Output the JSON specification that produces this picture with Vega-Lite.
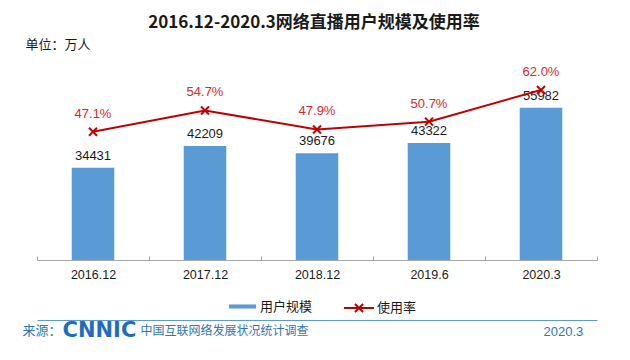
{
  "$schema": "https://vega.github.io/schema/vega-lite/v6.json",
  "width": 560,
  "height": 220,
  "autosize": {"type": "none"},
  "padding": {"left": 37, "top": 40, "right": 33, "bottom": 100},
  "background": "white",
  "config": {"view": {"stroke": null}, "font": "Noto Sans CJK SC"},
  "title": {
    "text": "2016.12-2020.3网络直播用户规模及使用率",
    "fontSize": 17,
    "fontWeight": "bold",
    "font": "Noto Sans CJK SC",
    "color": "#1a1a1a",
    "anchor": "middle",
    "dx": -3,
    "offset": 6
  },
  "data": {
    "values": [
      {"period": "2016.12", "users": 34431, "rate": 0.471},
      {"period": "2017.12", "users": 42209, "rate": 0.547},
      {"period": "2018.12", "users": 39676, "rate": 0.479},
      {"period": "2019.6", "users": 43322, "rate": 0.507},
      {"period": "2020.3", "users": 55982, "rate": 0.62}
    ]
  },
  "layer": [
    {
      "encoding": {
        "x": {
          "field": "period", "type": "nominal", "sort": null,
          "scale": {"paddingInner": 0, "paddingOuter": 0},
          "axis": {
            "orient": "bottom", "title": null, "labelAngle": 0,
            "labelFont": "Liberation Sans", "labelFontSize": 12.5, "labelColor": "#1a1a1a",
            "domainColor": "#A6A6A6", "tickColor": "#A6A6A6", "tickSize": -4,
            "tickBand": "extent", "labelPadding": 12, "grid": false
          }
        },
        "y": {
          "field": "users", "type": "quantitative",
          "scale": {"domain": [1300, 80300], "zero": false},
          "axis": {
            "orient": "left", "title": "单位：万人", "labels": false, "ticks": false,
            "domain": false, "grid": false, "titleAngle": 0, "titleX": -12, "titleY": 4,
            "titleAlign": "left", "titleBaseline": "middle", "titleFontSize": 13,
            "titleFontWeight": "normal", "titleColor": "#1a1a1a", "titleFont": "Noto Sans CJK SC"
          }
        }
      },
      "layer": [
        {
          "mark": {"type": "bar", "width": {"band": 0.38}, "clip": true},
          "encoding": {
            "fill": {
              "datum": "用户规模",
              "scale": {"range": ["#5B9BD5"]},
              "legend": {
                "orient": "none", "legendX": 192, "legendY": 253, "title": null,
                "symbolType": "M-1,-0.15H1V0.15H-1Z", "symbolSize": 729,
                "symbolStrokeWidth": 0, "labelFontSize": 13, "labelFont": "Noto Sans CJK SC",
                "labelColor": "#1a1a1a", "labelOffset": 4, "padding": 0
              }
            }
          }
        },
        {
          "mark": {"type": "text", "dy": -12, "baseline": "middle", "fontSize": 13, "font": "Liberation Sans", "color": "#1a1a1a"},
          "encoding": {"text": {"field": "users", "type": "quantitative", "format": "d"}}
        }
      ]
    },
    {
      "encoding": {
        "x": {
          "field": "period", "type": "nominal", "sort": null,
          "axis": {
            "orient": "bottom", "offset": 60, "labels": false, "ticks": false,
            "domain": true, "domainColor": "#5B9BD5", "domainWidth": 1.2, "grid": false,
            "title": "2020.3", "titleX": 506, "titleY": 11, "titleAlign": "left",
            "titleBaseline": "middle", "titleFontSize": 13, "titleFontWeight": "normal",
            "titleColor": "#2E75B6", "titleFont": "Liberation Sans"
          }
        },
        "y": {
          "field": "rate", "type": "quantitative",
          "scale": {"domain": [0.0129, 0.7986], "zero": false},
          "axis": {
            "orient": "left", "title": "来源：", "labels": false, "ticks": false,
            "domain": false, "grid": false, "titleAngle": 0, "titleX": -15, "titleY": 290,
            "titleAlign": "left", "titleBaseline": "middle", "titleFontSize": 13,
            "titleFontWeight": "normal", "titleColor": "#2E75B6", "titleFont": "Noto Sans CJK SC"
          }
        }
      },
      "layer": [
        {
          "mark": {"type": "line", "strokeWidth": 2},
          "encoding": {
            "stroke": {
              "datum": "使用率",
              "scale": {"range": ["#C00000"]},
              "legend": {
                "orient": "none", "legendX": 306, "legendY": 252, "title": null,
                "symbolType": "M-1,0H1M-0.27,-0.27L0.27,0.27M-0.27,0.27L0.27,-0.27",
                "symbolSize": 900, "symbolStrokeWidth": 2, "symbolFillColor": "transparent",
                "labelFontSize": 13, "labelFont": "Noto Sans CJK SC",
                "labelColor": "#1a1a1a", "labelOffset": 2, "padding": 0
              }
            }
          }
        },
        {
          "mark": {"type": "text", "dy": -18, "baseline": "middle", "fontSize": 13, "font": "Liberation Sans", "color": "#D9262B"},
          "encoding": {"text": {"field": "rate", "type": "quantitative", "format": ".1%"}}
        }
      ]
    },
    {
      "mark": {"type": "point", "shape": "M-1,-1L1,1M-1,1L1,-1", "size": 64, "filled": false, "stroke": "#C00000", "strokeWidth": 2, "opacity": 1},
      "encoding": {
        "x": {
          "field": "period", "type": "nominal", "sort": null,
          "axis": {
            "orient": "bottom", "labels": false, "ticks": false, "domain": false, "grid": false,
            "title": "中国互联网络发展状况统计调查", "titleX": 103, "titleY": 70,
            "titleAlign": "left", "titleBaseline": "middle", "titleFontSize": 12,
            "titleFontWeight": "normal", "titleColor": "#2E75B6", "titleFont": "Noto Sans CJK SC"
          }
        },
        "y": {
          "field": "rate", "type": "quantitative",
          "scale": {"domain": [0.0129, 0.7986], "zero": false},
          "axis": {
            "orient": "left", "title": "CNNIC", "labels": false, "ticks": false,
            "domain": false, "grid": false, "titleAngle": 0, "titleX": 25, "titleY": 290,
            "titleAlign": "left", "titleBaseline": "middle", "titleFontSize": 21,
            "titleFontWeight": 900, "titleColor": "#1F6DBA", "titleFont": "DejaVu Sans"
          }
        }
      }
    }
  ],
  "resolve": {"scale": {"y": "independent"}, "axis": {"x": "independent", "y": "independent"}}
}
